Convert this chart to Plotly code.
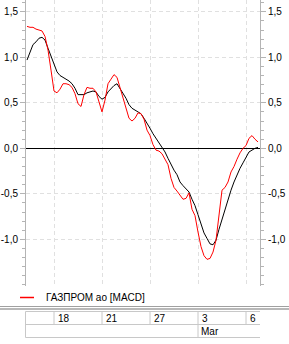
import plotly.graph_objects as go

# ---------------- data ----------------
bar_index = list(range(78))

macd = [1.34, 1.33, 1.33, 1.31, 1.30, 1.29, 1.23, 1.08, 0.86, 0.63,
        0.61, 0.65, 0.71, 0.71, 0.70, 0.67, 0.60, 0.49, 0.46, 0.59,
        0.67, 0.66, 0.66, 0.62, 0.51, 0.40, 0.53, 0.71, 0.76, 0.81,
        0.78, 0.67, 0.55, 0.46, 0.33, 0.30, 0.33, 0.39, 0.38, 0.32,
        0.20, 0.14, 0.04, -0.02, -0.03, -0.06, -0.12, -0.18, -0.33, -0.43,
        -0.47, -0.51, -0.56, -0.55, -0.49, -0.67, -0.74, -0.92, -1.08, -1.18,
        -1.22, -1.21, -1.14, -1.01, -0.70, -0.46, -0.43, -0.37, -0.26, -0.20,
        -0.12, -0.05, 0.00, 0.03, 0.11, 0.14, 0.10, 0.07]

signal = [0.97, 1.06, 1.14, 1.17, 1.21, 1.22, 1.19, 1.10, 1.02, 0.92,
          0.84, 0.80, 0.78, 0.76, 0.74, 0.71, 0.66, 0.59, 0.59, 0.59,
          0.61, 0.62, 0.63, 0.62, 0.57, 0.54, 0.56, 0.62, 0.66, 0.69,
          0.71, 0.66, 0.61, 0.55, 0.48, 0.44, 0.42, 0.40, 0.38, 0.33,
          0.28, 0.22, 0.16, 0.11, 0.07, 0.02, -0.04, -0.11, -0.18, -0.24,
          -0.29, -0.37, -0.41, -0.45, -0.48, -0.56, -0.63, -0.73, -0.84, -0.93,
          -0.99, -1.05, -1.06, -1.01, -0.89, -0.78, -0.66, -0.56, -0.46, -0.37,
          -0.29, -0.22, -0.16, -0.10, -0.04, -0.02, 0.00, 0.01]

date_ticks = [9, 25, 41, 57, 73]
date_labels = ["18", "21", "27", "3", "6"]
month_tick = 57
month_label = "Mar"
y_ticks = [-1.0, -0.5, 0.0, 0.5, 1.0, 1.5]
y_labels = ["-1,0", "-0,5", "0,0", "0,5", "1,0", "1,5"]
series_name = "ГАЗПРОМ ао [MACD]"

# ---------------- layout helpers (pixels) ----------------
W, H = 289, 344
L, R, T, B = 26, 29, 0, 58
PW, PH = W - L - R, H - T - B


def pxx(x):
    return (x - L) / PW


def pxy(y):
    return (T + PH - y) / PH


FONT = "Liberation Sans, Arial, sans-serif"
GRID = "#e0e0e0"
AXIS = "#b4b4b4"
CELL = "#c8c8c8"

fig = go.Figure()
fig.add_trace(go.Scatter(x=bar_index, y=signal, mode="lines",
                         line=dict(color="black", width=1),
                         showlegend=False, hoverinfo="skip"))
fig.add_trace(go.Scatter(x=bar_index, y=macd, mode="lines", name=series_name,
                         line=dict(color="#ff0000", width=1),
                         showlegend=False, hoverinfo="skip"))
# invisible trace to carry right-hand axis
fig.add_trace(go.Scatter(x=bar_index, y=signal, yaxis="y2", mode="lines",
                         line=dict(color="rgba(0,0,0,0)", width=0),
                         showlegend=False, hoverinfo="skip"))

yrange = [-1.513, 1.63]
yax_common = dict(range=yrange, tickmode="array", tickvals=y_ticks,
                  ticktext=y_labels, ticks="outside", ticklen=5,
                  tickcolor=AXIS, showline=True, linecolor=AXIS, linewidth=1,
                  tickfont=dict(family=FONT, size=10, color="black"),
                  minor=dict(tickmode="linear", tick0=0, dtick=0.1,
                             ticks="outside", ticklen=3, tickcolor=AXIS,
                             showgrid=False),
                  fixedrange=True)

fig.update_layout(
    width=W, height=H,
    margin=dict(l=L, r=R, t=T, b=B, pad=0),
    paper_bgcolor="white", plot_bgcolor="white",
    showlegend=False,
    xaxis=dict(range=[-0.333, 77.667], tickmode="array", tickvals=date_ticks,
               showticklabels=False, ticks="", showgrid=True, gridcolor=GRID,
               griddash="4px,3px", gridwidth=1, zeroline=False, showline=False),
    yaxis=dict(**yax_common, side="left", showgrid=True, gridcolor=GRID,
               griddash="4px,3px", gridwidth=1, zeroline=True,
               zerolinecolor="black", zerolinewidth=1),
    yaxis2=dict(**yax_common, side="right", overlaying="y", anchor="x",
                showgrid=False, zeroline=False),
)

shapes = []
annotations = []

# legend
ly = pxy(297.5)
shapes.append(dict(type="line", xref="paper", yref="paper",
                   x0=pxx(20), x1=pxx(34), y0=ly, y1=ly,
                   line=dict(color="#ff0000", width=1.5)))
annotations.append(dict(xref="paper", yref="paper", x=pxx(44), y=ly,
                        xanchor="left", yanchor="middle", showarrow=False,
                        text=series_name,
                        font=dict(family=FONT, size=10, color="black")))

# separator
for yy, col, w in [(306.5, "#a0a0a0", 1), (309, "#a0a0a0", 1.5)]:
    shapes.append(dict(type="line", xref="paper", yref="paper",
                       x0=pxx(0), x1=pxx(W), y0=pxy(yy), y1=pxy(yy),
                       line=dict(color=col, width=w)))

# date table
r0, r1, r2 = 311.5, 324.5, 337.5
for yy in (r0, r1, r2):
    shapes.append(dict(type="line", xref="paper", yref="paper",
                       x0=pxx(25.5), x1=pxx(260), y0=pxy(yy), y1=pxy(yy),
                       line=dict(color=CELL, width=1)))
shapes.append(dict(type="line", xref="paper", yref="paper",
                   x0=pxx(25.5), x1=pxx(25.5), y0=pxy(r0), y1=pxy(r2),
                   line=dict(color=CELL, width=1)))
for t in date_ticks:
    shapes.append(dict(type="line", xref="x", yref="paper",
                       x0=t, x1=t, y0=pxy(r0), y1=pxy(r1),
                       line=dict(color=CELL, width=1)))
shapes.append(dict(type="line", xref="x", yref="paper",
                   x0=month_tick, x1=month_tick, y0=pxy(r1), y1=pxy(r2),
                   line=dict(color=CELL, width=1)))
for t, lab in zip(date_ticks, date_labels):
    annotations.append(dict(xref="x", yref="paper", x=t, y=pxy((r0 + r1) / 2),
                            xanchor="left", yanchor="middle", xshift=2,
                            showarrow=False, text=lab,
                            font=dict(family=FONT, size=10, color="black")))
annotations.append(dict(xref="x", yref="paper", x=month_tick,
                        y=pxy((r1 + r2) / 2), xanchor="left",
                        yanchor="middle", xshift=1, showarrow=False,
                        text=month_label,
                        font=dict(family=FONT, size=10, color="black")))

fig.update_layout(shapes=shapes, annotations=annotations)
fig.write_html("out.html")
